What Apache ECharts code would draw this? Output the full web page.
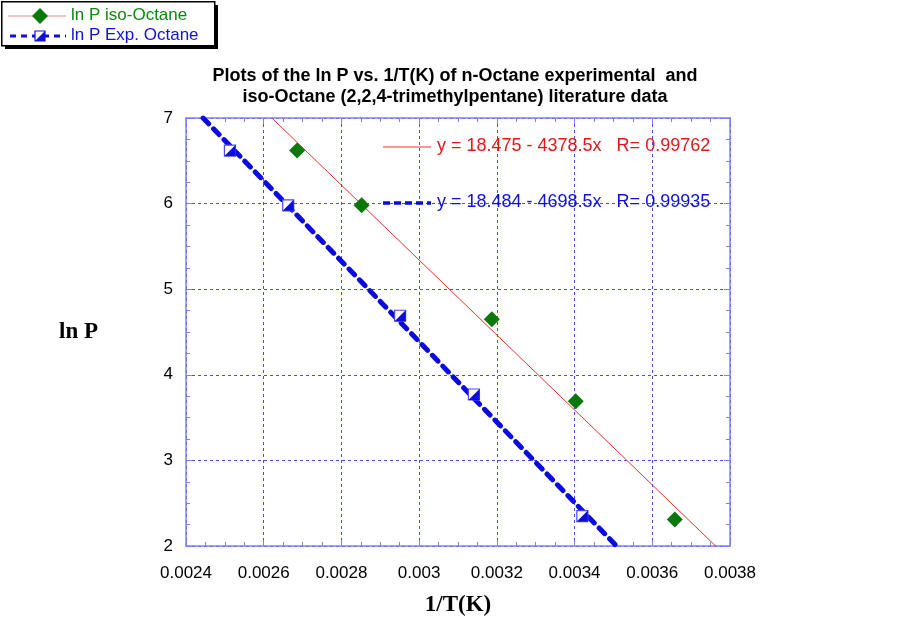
<!DOCTYPE html>
<html>
<head>
<meta charset="utf-8">
<script src="https://cdn.jsdelivr.net/npm/echarts@6/dist/echarts.min.js"></script>
<style>
  html, body { margin: 0; padding: 0; background: #fff; }
  #chart { width: 903px; height: 622px; }
</style>
</head>
<body>
<div id="chart"></div>
<script>
// points: [1/T, ln P]
const isoOctane = [[0.002686, 6.62], [0.002852, 5.98], [0.003187, 4.65], [0.003403, 3.69], [0.003658, 2.31]];
const expOctane = [[0.002513, 6.62], [0.002663, 5.98], [0.002951, 4.69], [0.003141, 3.77], [0.003420, 2.35]];
// fitted lines, ends where they leave the plot
const isoFit = [[0.002621, 7], [0.003763, 2]];
const expFit = [[0.002444, 7], [0.003508, 2]];
const isoEq = 'y = 18.475 - 4378.5x   R= 0.99762';
const expEq = 'y = 18.484 - 4698.5x   R= 0.99935';

const axisBlue = '#7f7fef';
const gridBlue = '#4a4aff';

const chart = echarts.init(document.getElementById('chart'));

function fmtX(v) {
  return String(parseFloat(v.toFixed(5)));
}

var xCommon = {
  type: 'value', min: 0.0024, max: 0.0038, interval: 0.0002,
  axisLine: { show: true, lineStyle: { color: axisBlue, width: 1.5 } },
  axisTick: { show: true, inside: true, length: 6, lineStyle: { color: axisBlue } },
  minorTick: { show: true, splitNumber: 4, length: 4, lineStyle: { color: axisBlue } }
};
var yCommon = {
  type: 'value', min: 2, max: 7, interval: 1,
  axisLine: { show: true, lineStyle: { color: axisBlue, width: 1.5 } },
  axisTick: { show: true, inside: true, length: 6, lineStyle: { color: axisBlue } },
  minorTick: { show: true, splitNumber: 4, length: 4, lineStyle: { color: axisBlue } }
};

// half filled square used for the experimental points
function halfSquare(params, api) {
  var p = api.coord([api.value(0), api.value(1)]);
  var s = 5.5;
  return {
    type: 'group',
    children: [
      { type: 'rect', shape: { x: p[0] - s, y: p[1] - s, width: 2 * s, height: 2 * s },
        style: { fill: '#fff', stroke: '#4a4af0', lineWidth: 1.2 } },
      { type: 'polygon', shape: { points: [[p[0] + s, p[1] - s], [p[0] + s, p[1] + s], [p[0] - s, p[1] + s]] },
        style: { fill: '#0c0cdc' } }
    ]
  };
}

var option = {
  animation: false,
  title: {
    text: 'Plots of the ln P vs. 1/T(K) of n-Octane experimental  and\niso-Octane (2,2,4-trimethylpentane) literature data',
    left: 450, top: 61, textAlign: 'center',
    textStyle: { fontFamily: 'Liberation Sans, Arial', fontWeight: 'bold', fontSize: 18, lineHeight: 21, color: '#000' }
  },
  grid: { left: 186, right: 173, top: 118, bottom: 74 },
  xAxis: [
    Object.assign({}, xCommon, {
      position: 'bottom',
      name: '1/T(K)', nameLocation: 'middle', nameGap: 48,
      nameTextStyle: { fontFamily: 'Liberation Serif, Times New Roman', fontWeight: 'bold', fontSize: 23, color: '#000' },
      axisLabel: { formatter: fmtX, fontFamily: 'Liberation Sans, Arial', fontSize: 17, color: '#000', margin: 19 },
      splitLine: { show: true, lineStyle: { color: gridBlue, type: [3, 3], width: 1 } }
    }),
    Object.assign({}, xCommon, { position: 'top', axisLabel: { show: false }, splitLine: { show: false } })
  ],
  yAxis: [
    Object.assign({}, yCommon, {
      position: 'left',
      name: 'ln P', nameLocation: 'middle', nameGap: 88, nameRotate: 0,
      nameTextStyle: { fontFamily: 'Liberation Serif, Times New Roman', fontWeight: 'bold', fontSize: 23, color: '#000' },
      axisLabel: { fontFamily: 'Liberation Sans, Arial', fontSize: 17, color: '#000', margin: 13 },
      splitLine: { show: true, lineStyle: { color: gridBlue, type: [3, 3], width: 1 } }
    }),
    Object.assign({}, yCommon, { position: 'right', axisLabel: { show: false }, splitLine: { show: false } })
  ],
  series: [
    {
      name: 'iso fit', type: 'line', data: isoFit, symbol: 'none',
      lineStyle: { color: '#e8322c', width: 1 }, z: 2
    },
    {
      name: 'exp fit', type: 'line', data: expFit, symbol: 'none',
      lineStyle: { color: '#0a0ae0', width: 5, type: [8, 7], cap: 'round' }, z: 2
    },
    {
      name: 'ln P iso-Octane', type: 'scatter', data: isoOctane,
      symbol: 'diamond', symbolSize: 16, itemStyle: { color: '#087808', opacity: 1 }, z: 3
    },
    {
      name: 'ln P Exp. Octane', type: 'custom', data: expOctane,
      renderItem: halfSquare, z: 3
    }
  ],
  graphic: [
    // legend box with drop shadow
    { type: 'rect', left: 5, top: 5, shape: { width: 213, height: 44 }, style: { fill: '#000' }, z: 10 },
    { type: 'rect', left: 1, top: 1, shape: { width: 213, height: 44 }, style: { fill: '#fff', stroke: '#000', lineWidth: 1.5 }, z: 11 },
    { type: 'line', shape: { x1: 8, y1: 16, x2: 66, y2: 16 }, style: { stroke: '#ee8888', lineWidth: 1 }, z: 12 },
    { type: 'polygon', shape: { points: [[40, 8], [48, 16], [40, 24], [32, 16]] }, style: { fill: '#087808' }, z: 12 },
    { type: 'text', left: 71, top: 7, style: { text: 'ln P iso-Octane', fill: '#0a8a0a', font: '17px Liberation Sans, Arial' }, z: 12 },
    { type: 'line', shape: { x1: 10, y1: 36, x2: 66, y2: 36 }, style: { stroke: '#1010dd', lineWidth: 3, lineDash: [6, 5] }, z: 12 },
    { type: 'rect', shape: { x: 35, y: 31, width: 10, height: 10 }, style: { fill: '#fff', stroke: '#1010dd', lineWidth: 1.2 }, z: 13 },
    { type: 'polygon', shape: { points: [[45, 31], [45, 41], [35, 41]] }, style: { fill: '#1010dd' }, z: 13 },
    { type: 'text', left: 71, top: 27, style: { text: 'ln P Exp. Octane', fill: '#1010dd', font: '17px Liberation Sans, Arial' }, z: 12 },
    // equation labels inside the plot
    { type: 'line', shape: { x1: 383, y1: 147, x2: 431, y2: 147 }, style: { stroke: '#e8322c', lineWidth: 1 }, z: 12 },
    { type: 'text', left: 437, top: 137, style: { text: isoEq, fill: '#e01818', font: '18px Liberation Sans, Arial' }, z: 12 },
    { type: 'line', shape: { x1: 383, y1: 203, x2: 431, y2: 203 }, style: { stroke: '#0a0ae0', lineWidth: 3.5, lineDash: [7, 4] }, z: 12 },
    { type: 'text', left: 437, top: 193, style: { text: expEq, fill: '#1010dd', font: '18px Liberation Sans, Arial' }, z: 12 }
  ]
};

chart.setOption(option);
</script>
</body>
</html>
